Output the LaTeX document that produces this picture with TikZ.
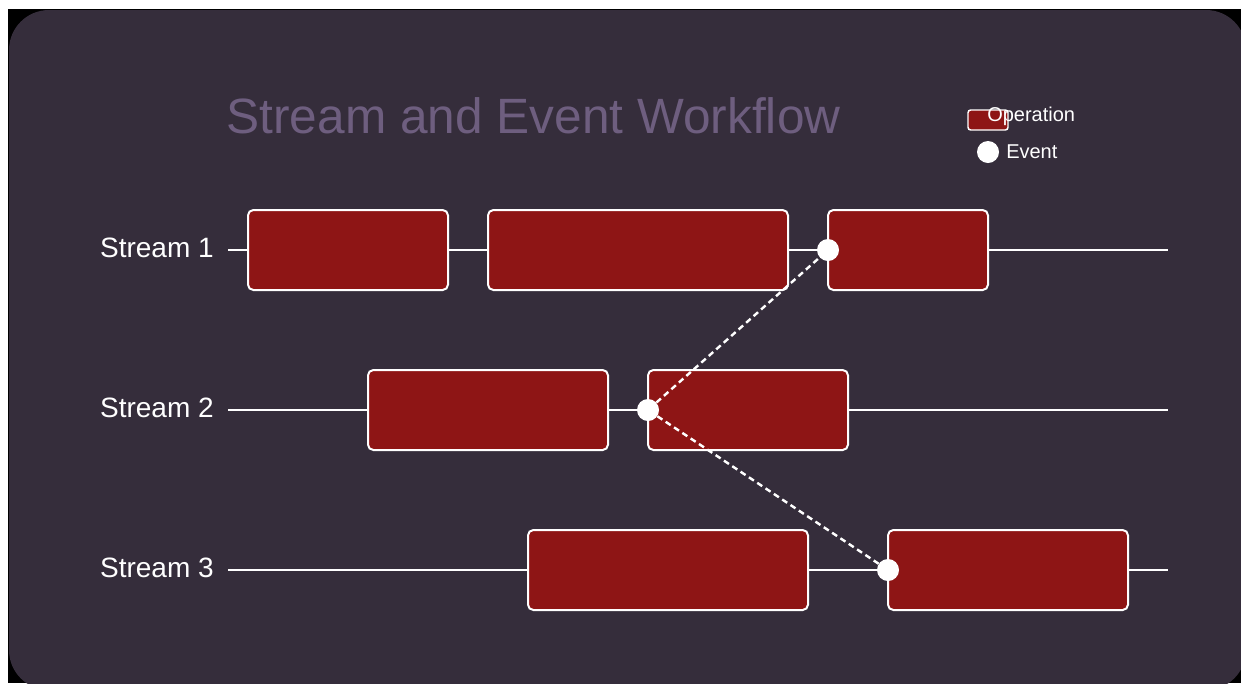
\documentclass[tikz,border=0pt]{standalone}
\usepackage{fontspec}
\setmainfont{Liberation Sans}
\definecolor{panelbg}{HTML}{352D3B}
\definecolor{titlecol}{HTML}{6E5E7F}
\definecolor{opred}{HTML}{8E1515}
\tikzset{
  opbox/.style={draw=white,fill=opred,line width=1.5pt,rounded corners=4pt,
    minimum height=60pt,inner sep=0pt},
  evdot/.style={circle,fill=white,minimum size=16.5pt,inner sep=0pt},
  streamline/.style={white,line width=1.5pt},
  evlink/.style={white,line width=1.8pt,dash pattern=on 4.5pt off 3pt},
  streamlabel/.style={anchor=east,text=white,font=\fontsize{21}{25}\selectfont,inner sep=0pt}
}
\begin{document}
\begin{tikzpicture}[x=0.75pt,y=-0.75pt]
\useasboundingbox (0,0) rectangle (1241,683);
\fill[white] (0,0) rectangle (1241,683);
\fill[black] (8,9) rectangle (1241,683);
\fill[panelbg,rounded corners=30pt] (9,10) rectangle (1246,690);

\node[text=titlecol,font=\fontsize{37.2}{44}\selectfont] (title) at (533.5,116) {Stream and Event Workflow};

% legend
\node[opbox,minimum width=30pt,minimum height=15pt,rounded corners=2pt,line width=1.1pt] (legop) at (988,120) {};
\node[anchor=west,inner sep=0pt,text=white,font=\fontsize{15}{18}\selectfont] (legoptext) at (987,116) {Operation};
\node[evdot] (legev) at (988,152) {};
\node[anchor=west,inner sep=0pt,text=white,font=\fontsize{15}{18}\selectfont] (legevtext) at (1006,152) {Event};

% streams
\foreach \s/\y in {1/250,2/410,3/570} {
  \node[streamlabel] (label\s) at (214,\y-2) {Stream \s};
  \coordinate (start\s) at (228,\y);
  \coordinate (end\s) at (1168,\y);
  \draw[streamline] (start\s) -- (end\s);
}

% operations
\node[opbox,minimum width=150pt] (op1a) at (348,250) {};
\node[opbox,minimum width=225pt] (op1b) at (638,250) {};
\node[opbox,minimum width=120pt] (op1c) at (908,250) {};
\node[opbox,minimum width=180pt] (op2a) at (488,410) {};
\node[opbox,minimum width=150pt] (op2b) at (748,410) {};
\node[opbox,minimum width=210pt] (op3a) at (668,570) {};
\node[opbox,minimum width=180pt] (op3b) at (1008,570) {};

% events
\node[evdot] (ev1) at (828,250) {};
\node[evdot] (ev2) at (648,410) {};
\node[evdot] (ev3) at (888,570) {};
\draw[evlink] (ev2) -- (ev1);
\draw[evlink] (ev2) -- (ev3);
\end{tikzpicture}
\end{document}
